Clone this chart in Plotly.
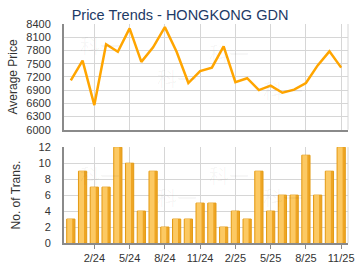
import plotly.graph_objects as go
from plotly.subplots import make_subplots

months = ["12/23", "1/24", "2/24", "3/24", "4/24", "5/24", "6/24", "7/24", "8/24",
          "9/24", "10/24", "11/24", "12/24", "1/25", "2/25", "3/25", "4/25", "5/25",
          "6/25", "7/25", "8/25", "9/25", "10/25", "11/25"]
avg_price = [7120, 7570, 6560, 7940, 7770, 8300, 7540, 7870, 8330, 7770, 7060, 7330,
             7410, 7890, 7080, 7170, 6900, 7000, 6840, 6910, 7060, 7460, 7780, 7410]
transactions = [3, 9, 7, 7, 12, 10, 4, 9, 2, 3, 3, 5, 5, 2, 4, 3, 9, 4, 6, 6, 11, 6, 9, 12]
tick_months = ["2/24", "5/24", "8/24", "11/24", "2/25", "5/25", "8/25", "11/25"]
price_ticks = [6000, 6300, 6600, 6900, 7200, 7500, 7800, 8100, 8400]
trans_ticks = [0, 2, 4, 6, 8, 10, 12]

fig = make_subplots(rows=2, cols=1, shared_xaxes=False, vertical_spacing=0.0)

fig.add_trace(go.Scatter(x=months, y=avg_price, mode="lines",
                         line=dict(color="#ffa500", width=2.5), hoverinfo="skip"),
              row=1, col=1)
# bar body (darker right side)
fig.add_trace(go.Bar(x=months, y=transactions,
                     marker=dict(color="#eea524", line=dict(color="#e39a14", width=1)),
                     width=0.7, hoverinfo="skip"),
              row=2, col=1)
# lighter left highlight of each bar
fig.add_trace(go.Bar(x=months, y=transactions,
                     marker=dict(color="#fcc963", line=dict(width=0)),
                     width=0.42, offset=-0.3, hoverinfo="skip"),
              row=2, col=1)

font = "Liberation Sans, Arial, sans-serif"
xcommon = dict(type="category", categoryorder="array", categoryarray=months,
               range=[-0.58, 23.58], tickvals=tick_months, showgrid=True,
               gridcolor="#d6d6d6", gridwidth=1, showline=True, linecolor="#8a8a8a",
               linewidth=2, zeroline=False)
fig.update_xaxes(**xcommon, showticklabels=False, ticks="", row=1, col=1)
fig.update_xaxes(**xcommon, showticklabels=True, ticks="outside", ticklen=4,
                 tickcolor="#8a8a8a", tickfont=dict(size=11, color="#333333", family=font),
                 row=2, col=1)

ycommon = dict(showgrid=True, gridcolor="#d6d6d6", gridwidth=1, showline=True,
               linecolor="#8a8a8a", linewidth=2, zeroline=False, ticks="",
               tickfont=dict(size=11, color="#333333", family=font), ticklabelstandoff=9)
fig.update_yaxes(**ycommon, range=[6000, 8400], tickvals=price_ticks,
                 domain=[0.517, 1.0],
                 title=dict(text="Average Price", font=dict(size=12, color="#333333", family=font),
                            standoff=6), row=1, col=1)
fig.update_yaxes(**ycommon, range=[0, 12.02], tickvals=trans_ticks,
                 domain=[0.0, 0.438],
                 title=dict(text="No. of Trans.", font=dict(size=12, color="#333333", family=font),
                            standoff=15), row=2, col=1)

# faint right-edge frame lines
fig.add_shape(type="line", xref="paper", yref="y domain", x0=1, x1=1, y0=0, y1=1,
              line=dict(color="#d6d6d6", width=1))
fig.add_shape(type="line", xref="paper", yref="y2 domain", x0=1, x1=1, y0=0, y1=1,
              line=dict(color="#d6d6d6", width=1))

# faint watermarks
wm = [(0.05, 0.95, "y domain"), (0.32, 0.33, "y domain"), (0.58, 0.88, "y domain"),
      (0.85, 0.22, "y domain"), (0.05, 0.88, "y2 domain"), (0.32, 0.3, "y2 domain"),
      (0.58, 0.88, "y2 domain"), (0.85, 0.3, "y2 domain")]
for x, y, yr in wm:
    fig.add_annotation(text="科一", x=x, y=y, xref="paper", yref=yr, showarrow=False,
                       font=dict(size=20, color="rgba(0,0,0,0.04)",
                                 family="Noto Sans CJK SC"))

fig.update_layout(
    width=360, height=270,
    margin=dict(l=64, r=6, t=24, b=26.5),
    paper_bgcolor="white", plot_bgcolor="white",
    showlegend=False, bargap=0.3, barmode="overlay",
    title=dict(text="Price Trends - HONGKONG GDN", x=0.5, xanchor="center",
               y=1 - 15 / 270, yanchor="middle",
               font=dict(size=14.5, color="#1d3a66", family=font)),
)

fig.write_html("out.html")
